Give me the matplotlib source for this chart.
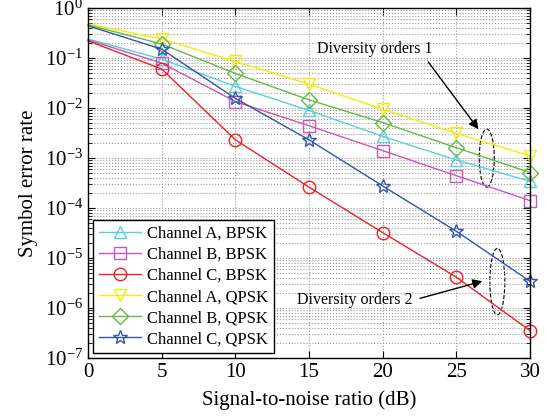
import matplotlib
matplotlib.use('Agg')
import matplotlib.pyplot as plt
from matplotlib.patches import Ellipse
from matplotlib.ticker import LogLocator, NullFormatter, LogFormatterMathtext

plt.rcParams['font.family'] = ['Liberation Serif', 'DejaVu Serif']
plt.rcParams['mathtext.fontset'] = 'stix'

snr = [0, 5, 10, 15, 20, 25, 30]
ser_a_bpsk = [0.24, 0.095, 0.027, 0.0089, 0.0027, 9.1e-4, 3.4e-4]
ser_b_bpsk = [0.23, 0.079, 0.0134, 0.0044, 0.0014, 4.4e-4, 1.4e-4]
ser_c_bpsk = [0.22, 0.06, 0.0023, 2.6e-4, 3.2e-5, 4.1e-6, 3.5e-7]
ser_a_qpsk = [0.48, 0.24, 0.085, 0.030, 0.0094, 3.1e-3, 1.1e-3]
ser_b_qpsk = [0.46, 0.19, 0.049, 0.0145, 0.0051, 1.6e-3, 5.1e-4]
ser_c_qpsk = [0.44, 0.15, 0.0155, 0.0023, 2.75e-4, 3.4e-5, 3.4e-6]

labels = ['Channel A, BPSK', 'Channel B, BPSK', 'Channel C, BPSK',
          'Channel A, QPSK', 'Channel B, QPSK', 'Channel C, QPSK']
series = [ser_a_bpsk, ser_b_bpsk, ser_c_bpsk, ser_a_qpsk, ser_b_qpsk, ser_c_qpsk]
colors = ['#55d0e0', '#cc55bb', '#ee2222', '#f0f000', '#66bb44', '#3355aa']
markers = ['^', 's', 'o', 'v', 'D', '*']
msizes = [9, 8, 9, 9, 8, 10]

fig = plt.figure(figsize=(5.47, 4.20), dpi=100)
ax = fig.add_axes([0.161, 0.148, 0.808, 0.833])

for y, lab, c, m, ms in zip(series, labels, colors, markers, msizes):
    # no marker at the first point (0 dB), as in the original figure
    ax.plot(snr, y, color=c, marker=m, markersize=ms, markevery=slice(1, None),
            markerfacecolor='none', markeredgecolor=c, markeredgewidth=1.0,
            linewidth=1.0, label=lab, clip_on=False)

ax.set_yscale('log')
ax.set_xlim(0, 30)
ax.set_ylim(1e-7, 1)
ax.set_xticks(snr)
ax.yaxis.set_major_locator(LogLocator(base=10, numticks=10))
ax.yaxis.set_minor_locator(LogLocator(base=10, subs=range(2, 10), numticks=10))
ax.yaxis.set_minor_formatter(NullFormatter())
ax.yaxis.set_major_formatter(LogFormatterMathtext())
ax.tick_params(which='both', direction='in', top=True, right=True, labelsize=15)
ax.tick_params(which='major', length=5)
ax.tick_params(which='minor', length=3)
ax.grid(True, which='major', axis='both', linestyle=':', color='#999999', linewidth=0.8)
ax.grid(True, which='minor', axis='y', linestyle=':', color='#999999', linewidth=0.8)
for s in ax.spines.values():
    s.set_linewidth(1.0)

ax.set_xlabel('Signal-to-noise ratio (dB)', fontsize=15, labelpad=6)
ax.set_ylabel('Symbol error rate', fontsize=15, labelpad=5)

leg = ax.legend(loc='lower left', fontsize=12, fancybox=False, edgecolor='black',
                framealpha=1, labelspacing=0.3, handlelength=2.5, borderpad=0.35,
                handletextpad=0.4, borderaxespad=0.3)
leg.get_frame().set_linewidth(1.0)

# dashed ellipses around curve groups
ax.add_patch(Ellipse((0.902, 0.571), 0.034, 0.166, transform=ax.transAxes,
                     fill=False, linestyle='--', edgecolor='black', linewidth=0.8))
ax.add_patch(Ellipse((0.926, 0.218), 0.034, 0.19, transform=ax.transAxes,
                     fill=False, linestyle='--', edgecolor='black', linewidth=0.8))

arrow = dict(arrowstyle='-|>', color='black', linewidth=1.0, mutation_scale=14)
ax.annotate('', xy=(0.887, 0.647), xytext=(0.766, 0.852), xycoords='axes fraction',
            arrowprops=arrow)
ax.text(0.517, 0.882, 'Diversity orders 1', transform=ax.transAxes, fontsize=11.5,
        ha='left', va='center')
ax.annotate('', xy=(0.898, 0.221), xytext=(0.745, 0.168), xycoords='axes fraction',
            arrowprops=arrow)
ax.text(0.472, 0.164, 'Diversity orders 2', transform=ax.transAxes, fontsize=11.5,
        ha='left', va='center')

fig.savefig('out.png', dpi=100)
